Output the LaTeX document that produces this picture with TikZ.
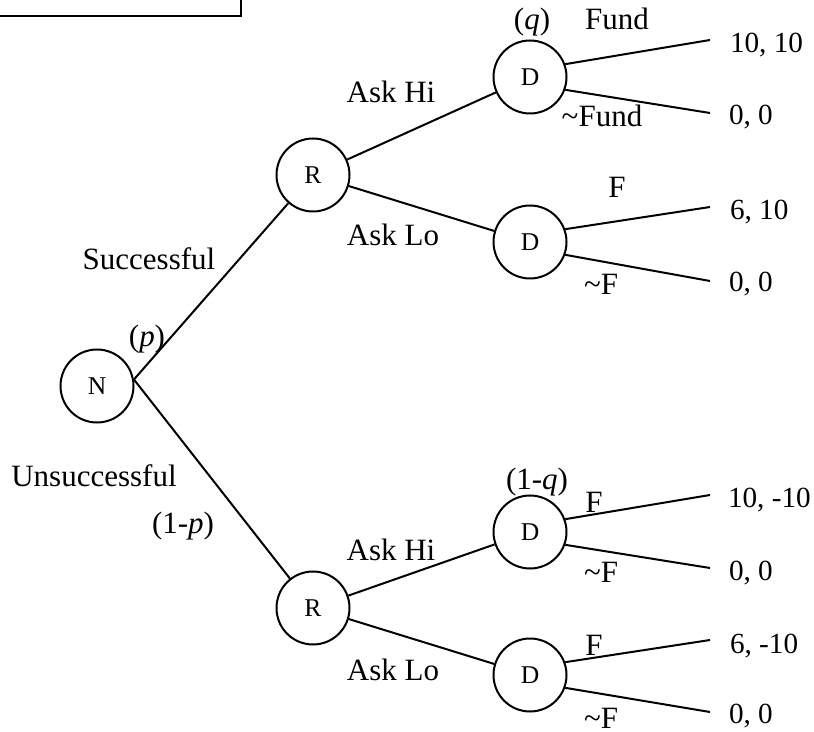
\documentclass[tikz,border=0pt]{standalone}
\usepackage{fontspec}
\setmainfont{Liberation Serif}

\begin{document}
\begin{tikzpicture}[x=0.5pt,y=-0.5pt,line width=1pt,
	chance/.style={draw,circle,minimum size=36.5pt,inner sep=0pt,font=\fontsize{12.8}{14}\selectfont},
	lbl/.style={anchor=base,inner sep=0pt,font=\fontsize{15.5}{18}\selectfont},
	pay/.style={anchor=base west,inner sep=0pt,font=\fontsize{14.6}{17}\selectfont}]

	\useasboundingbox (0,0) rectangle (814,732);

	\draw (0,16) -- (241,16) -- (241,0);

	\node[chance] (N) at (97,386) {N};
	\node[chance] (Rs) at (313,175) {R};
	\node[chance] (Ru) at (313,608) {R};
	\node[chance] (Dsh) at (530,77) {D};
	\node[chance] (Dsl) at (530,242) {D};
	\node[chance] (Duh) at (530,532) {D};
	\node[chance] (Dul) at (530,675) {D};

	\coordinate (e1) at (710,40);
	\coordinate (e2) at (710,113);
	\coordinate (e3) at (710,207);
	\coordinate (e4) at (710,281);
	\coordinate (e5) at (710,495);
	\coordinate (e6) at (710,568);
	\coordinate (e7) at (710,640);
	\coordinate (e8) at (710,712);

	\draw (N.10) -- (Rs);
	\draw (N.10) -- (Ru);
	\draw (Rs) -- (Dsh);
	\draw (Rs) -- (Dsl);
	\draw (Ru) -- (Duh);
	\draw (Ru) -- (Dul);

	\draw (Dsh.20) -- (e1);
	\draw (Dsh.-20) -- (e2);
	\draw (Dsl.20) -- (e3);
	\draw (Dsl.-20) -- (e4);
	\draw (Duh.20) -- (e5);
	\draw (Duh.-20) -- (e6);
	\draw (Dul.20) -- (e7);
	\draw (Dul.-20) -- (e8);

	\node[pay] (v1) at (729,53) {10, 10};
	\node[pay] (v2) at (728,125) {0, 0};
	\node[pay] (v3) at (729,220) {6, 10};
	\node[pay] (v4) at (728,292) {0, 0};
	\node[pay] (v5) at (727,508) {10, -10};
	\node[pay] (v6) at (728,580) {0, 0};
	\node[pay] (v7) at (729,653) {6, -10};
	\node[pay] (v8) at (728,723) {0, 0};

	\node[lbl] (q) at (532,30) {(\textit{q})};
	\node[lbl] (fund) at (617,30) {Fund};
	\node[lbl] (nfund) at (602,127) {\textasciitilde Fund};
	\node[lbl] (askhi1) at (391,103) {Ask Hi};
	\node[lbl] (asklo1) at (393,246) {Ask Lo};
	\node[lbl] (f1) at (617,198) {F};
	\node[lbl] (nf1) at (601,295) {\textasciitilde F};
	\node[lbl] (succ) at (149,270) {Successful};
	\node[lbl] (p) at (147,347) {(\textit{p})};
	\node[lbl] (unsucc) at (94,487) {Unsuccessful};
	\node[lbl] (notp) at (183,533) {(1-\textit{p})};
	\node[lbl] (notq) at (537,490) {(1-\textit{q})};
	\node[lbl] (f2) at (594,512) {F};
	\node[lbl] (nf2) at (601,582) {\textasciitilde F};
	\node[lbl] (askhi2) at (391,560) {Ask Hi};
	\node[lbl] (asklo2) at (393,680) {Ask Lo};
	\node[lbl] (f3) at (594,655) {F};
	\node[lbl] (nf3) at (601,728) {\textasciitilde F};

\end{tikzpicture}
\end{document}
